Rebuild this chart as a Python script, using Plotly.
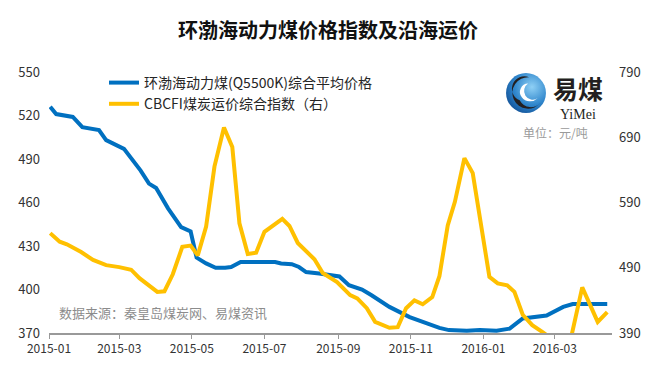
import base64
import plotly.graph_objects as go

# ---------------- data ----------------
coal_dates = [
    "2015-01-02", "2015-01-07", "2015-01-21", "2015-01-29", "2015-02-12", "2015-02-18",
    "2015-03-05", "2015-03-15", "2015-03-19", "2015-03-26", "2015-04-01", "2015-04-11",
    "2015-04-22", "2015-04-30", "2015-05-05", "2015-05-13", "2015-05-21", "2015-05-29",
    "2015-06-03", "2015-06-11", "2015-06-18", "2015-07-10", "2015-07-15", "2015-07-24",
    "2015-07-30", "2015-08-05", "2015-08-16", "2015-09-02", "2015-09-10", "2015-09-21",
    "2015-09-29", "2015-10-14", "2015-10-31", "2015-11-14", "2015-11-25", "2015-12-03",
    "2015-12-18", "2015-12-29", "2016-01-12", "2016-01-23", "2016-02-03", "2016-02-23",
    "2016-03-08", "2016-03-16", "2016-04-14",
]
coal_price = [
    526, 521, 519, 512, 510, 503,
    497, 486, 482, 473, 470, 456,
    443, 440, 422, 418, 415, 415,
    415.5, 419, 419, 419, 418, 417.5,
    415.5, 412, 411, 409, 403, 400,
    396, 388, 381, 377, 373.5, 372,
    371.5, 372, 371.5, 373, 380, 382,
    388, 390, 390,
]

freight_dates = [
    "2015-01-02", "2015-01-10", "2015-01-16", "2015-01-28", "2015-02-07", "2015-02-18",
    "2015-03-01", "2015-03-11", "2015-03-18", "2015-03-26", "2015-04-02", "2015-04-08",
    "2015-04-15", "2015-04-23", "2015-04-30", "2015-05-06", "2015-05-13", "2015-05-20",
    "2015-05-28", "2015-06-04", "2015-06-10", "2015-06-17", "2015-06-24", "2015-07-01",
    "2015-07-08", "2015-07-16", "2015-07-22", "2015-07-29", "2015-08-12", "2015-08-19",
    "2015-08-31", "2015-09-11", "2015-09-17", "2015-09-25", "2015-10-02", "2015-10-14",
    "2015-10-21", "2015-10-28", "2015-11-04", "2015-11-11", "2015-11-19", "2015-11-25",
    "2015-12-02", "2015-12-08", "2015-12-16", "2015-12-23", "2016-01-06", "2016-01-13",
    "2016-01-21", "2016-01-27", "2016-02-03", "2016-02-11", "2016-02-20", "2016-02-28",
    "2016-03-07", "2016-03-15", "2016-03-24", "2016-04-06", "2016-04-14",
]
freight_index = [
    543, 530, 526, 514, 502, 494,
    491, 487, 474, 463.5, 453, 454,
    480, 522, 524, 509, 553, 645,
    705, 675, 558, 511, 513, 545,
    555, 565, 554, 528, 503, 482,
    468, 448, 443, 428, 407, 398,
    399, 428, 440, 434, 445, 477,
    555, 591, 658, 635, 476, 466,
    463, 453, 418, 402, 391, 380,
    376, 386, 460, 407, 422,
]

name_coal = "环渤海动力煤(Q5500K)综合平均价格"
name_freight = "CBCFI煤炭运价综合指数（右）"
title_text = "环渤海动力煤价格指数及沿海运价"
source_text = "数据来源：秦皇岛煤炭网、易煤资讯"
unit_text = "单位：元/吨"
brand_cn = "易煤"
brand_en = "YiMei"

left_ticks = [370, 400, 430, 460, 490, 520, 550]
right_ticks = [390, 490, 590, 690, 790]

# ---------------- layout helpers ----------------
W, H = 656, 374
L, R, T, B = 49, 612, 72, 333
FONT = "Microsoft YaHei, Noto Sans CJK SC, sans-serif"


def px(x):
    return (x - L) / (R - L)


def py(y):
    return (B - y) / (B - T)


fig = go.Figure()
fig.add_trace(go.Scatter(
    x=coal_dates, y=coal_price, name=name_coal, mode="lines",
    line=dict(color="#0070C0", width=4), legendgroup="a",
))
fig.add_trace(go.Scatter(
    x=freight_dates, y=freight_index, name=name_freight, mode="lines",
    line=dict(color="#FFC000", width=4), yaxis="y2", legendgroup="b",
))

# logo graphic (no text inside)
svg = """<svg xmlns='http://www.w3.org/2000/svg' width='40' height='40' viewBox='0 0 40 40'>
<defs><radialGradient id='g' cx='0.65' cy='0.35' r='0.75'>
<stop offset='0' stop-color='#8fd0f5'/><stop offset='0.6' stop-color='#2f86cc'/><stop offset='1' stop-color='#114f95'/></radialGradient></defs>
<circle cx='20' cy='20' r='19' fill='url(#g)'/>
<path d='M23 5 A15 15 0 1 0 34 29 A12 12 0 0 1 14 27 A9 9 0 0 1 23 5 Z' fill='#231f20'/>
<path d='M22 11 A8 8 0 0 0 16 24 A10 10 0 0 0 31 25 A7 7 0 0 1 22 11 Z' fill='#ffffff'/>
</svg>"""
src = "data:image/svg+xml;base64," + base64.b64encode(svg.encode()).decode()

fig.update_layout(
    width=W, height=H,
    margin=dict(l=L, r=W - R, t=T, b=H - B, pad=0),
    paper_bgcolor="white", plot_bgcolor="white",
    font=dict(family=FONT, color="#404040", size=13),
    title=dict(text="<b>" + title_text + "</b>", x=0.5, xanchor="center",
               y=1 - 31 / H, yanchor="middle",
               font=dict(family=FONT, size=20, color="#111111")),
    showlegend=True,
    legend=dict(x=px(104), y=py(67), xanchor="left", yanchor="top",
                bgcolor="rgba(0,0,0,0)", font=dict(size=14, color="#262626"),
                traceorder="grouped", tracegroupgap=0, itemwidth=30),
    xaxis=dict(type="date", range=["2015-01-01", "2016-04-18"],
               tick0="2015-01-01", dtick="M2", tickformat="%Y-%m",
               showgrid=False, zeroline=False, showline=True, automargin=False,
               linecolor="#999999", linewidth=2,
               ticks="outside", ticklen=4, tickcolor="#999999", tickwidth=1,
               tickfont=dict(size=12, color="#333333")),
    yaxis=dict(range=[370, 550], tickvals=left_ticks, showgrid=False, zeroline=False,
               showline=False, ticks="", ticklabelstandoff=8, automargin=False,
               tickfont=dict(size=13, color="#333333")),
    yaxis2=dict(range=[390, 790], tickvals=right_ticks, overlaying="y", side="right",
                showgrid=False, zeroline=False, showline=False, ticks="",
                ticklabelstandoff=6, automargin=False,
                tickfont=dict(size=13, color="#333333")),
    images=[dict(source=src, xref="paper", yref="paper",
                 x=px(505), y=py(72), sizex=(42) / (R - L), sizey=(42) / (B - T),
                 xanchor="left", yanchor="top", sizing="stretch", layer="above")],
    annotations=[
        dict(text="<b>" + brand_cn + "</b>", xref="paper", yref="paper",
             x=px(578), y=py(88), xanchor="center", yanchor="middle", showarrow=False,
             font=dict(family=FONT, size=25, color="#231f20")),
        dict(text=brand_en, xref="paper", yref="paper",
             x=px(578), y=py(114), xanchor="center", yanchor="middle", showarrow=False,
             font=dict(family="Liberation Serif, DejaVu Serif, serif", size=14, color="#231f20")),
        dict(text=unit_text, xref="paper", yref="paper",
             x=px(555), y=py(132), xanchor="center", yanchor="middle", showarrow=False,
             font=dict(family=FONT, size=12, color="#9a9a9a")),
        dict(text=source_text, xref="paper", yref="paper",
             x=px(57), y=py(312), xanchor="left", yanchor="middle", showarrow=False,
             font=dict(family=FONT, size=13, color="#8c8c8c")),
    ],
)

fig.write_html("out.html", config={"displayModeBar": False},
               post_script="document.body.style.margin='0';")
